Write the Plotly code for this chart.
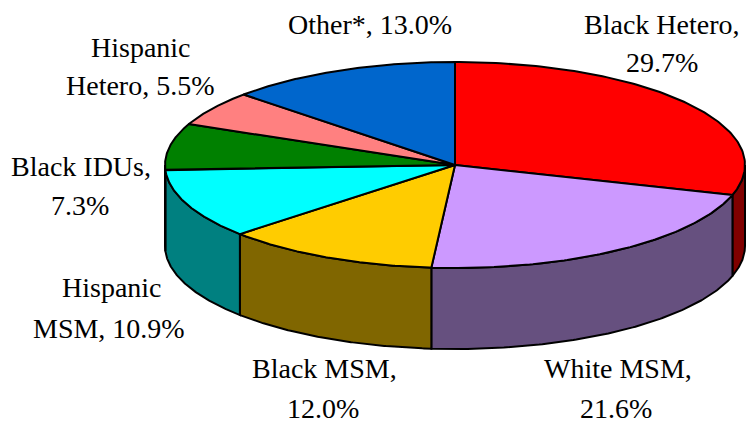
import numpy as np
import plotly.graph_objects as go

# data, clockwise from 12 o'clock
groups = ["Black Hetero", "White MSM", "Black MSM", "Hispanic MSM", "Black IDUs", "Hispanic Hetero", "Other*"]
shares = [29.7, 21.6, 12.0, 10.9, 7.3, 5.5, 13.0]
top_colors = ["#ff0000", "#cc99ff", "#ffcc00", "#00ffff", "#008000", "#ff8080", "#0066cc"]
side_colors = ["#800000", "#66507f", "#806600", "#008080", "#004000", "#804040", "#003366"]

# label lines as they break in the picture: (text, x centre, y centre)
label_lines = [
    ("Other*, 13.0%", 370, 24),
    ("Black Hetero,", 662, 24),
    ("29.7%", 662, 62),
    ("Hispanic", 141, 47),
    ("Hetero, 5.5%", 140, 85),
    ("Black IDUs,", 81, 166),
    ("7.3%", 80, 205),
    ("Hispanic", 112, 287),
    ("MSM, 10.9%", 109, 328),
    ("Black MSM,", 324, 368),
    ("12.0%", 323, 408),
    ("White MSM,", 618, 368),
    ("21.6%", 616, 408),
]

# ellipse geometry in page pixels
cx, cy = 455, 165
rx, ry = 290, 103
depth = 81


def arc(t0, t1):
    t = np.radians(np.linspace(t0, t1, 120))
    return cx + rx * np.sin(t), cy - ry * np.cos(t)


edges = np.concatenate([[0], np.cumsum(shares)]) / sum(shares) * 360

fig = go.Figure()

# side wall, only the front half of the rim shows
for i in range(len(groups)):
    t0, t1 = max(edges[i], 90), min(edges[i + 1], 270)
    if t0 >= t1:
        continue
    x, y = arc(t0, t1)
    fig.add_trace(go.Scatter(
        x=np.concatenate([x, x[::-1], x[:1]]),
        y=np.concatenate([y, y[::-1] + depth, y[:1]]),
        mode="lines", fill="toself", fillcolor=side_colors[i],
        line=dict(color="black", width=2), hoverinfo="skip",
    ))

# top face
for i in range(len(groups)):
    x, y = arc(edges[i], edges[i + 1])
    fig.add_trace(go.Scatter(
        x=np.concatenate([[cx], x, [cx]]),
        y=np.concatenate([[cy], y, [cy]]),
        mode="lines", fill="toself", fillcolor=top_colors[i],
        line=dict(color="black", width=2),
        name=groups[i], text=f"{groups[i]}, {shares[i]}%", hoverinfo="text",
    ))

for text, x, y in label_lines:
    fig.add_annotation(x=x, y=y, text=text, showarrow=False,
                       font=dict(family="Liberation Serif", size=28, color="black"))

fig.update_xaxes(visible=False, range=[0, 746], fixedrange=True)
fig.update_yaxes(visible=False, range=[426, 0], fixedrange=True)
fig.update_layout(
    width=746, height=426,
    margin=dict(l=0, r=0, t=0, b=0),
    showlegend=False,
    paper_bgcolor="white", plot_bgcolor="white",
)

# drop the body margin so the figure fills the window
fig.write_html("out.html", config={"displayModeBar": False},
               post_script="document.body.style.margin='0';")
